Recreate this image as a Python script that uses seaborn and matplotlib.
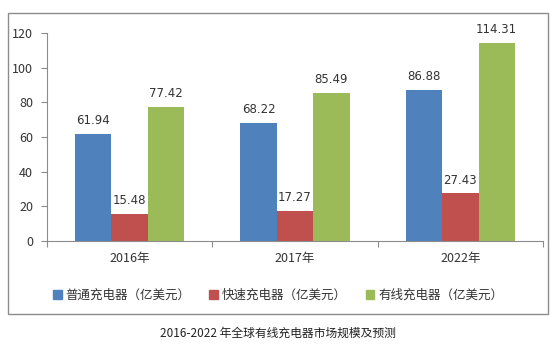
import matplotlib
matplotlib.use("Agg")
import matplotlib.pyplot as plt
from matplotlib.patches import Rectangle
import pandas as pd
import seaborn as sns

years = ["2016年", "2017年", "2022年"]
series_names = ["普通充电器（亿美元）", "快速充电器（亿美元）", "有线充电器（亿美元）"]
normal = [61.94, 68.22, 86.88]
fast = [15.48, 17.27, 27.43]
wired = [77.42, 85.49, 114.31]
caption = "2016-2022 年全球有线充电器市场规模及预测"

colors = ["#4F81BD", "#C0504D", "#9BBB59"]

df = pd.DataFrame({
    "year": years * 3,
    "series": [series_names[0]] * 3 + [series_names[1]] * 3 + [series_names[2]] * 3,
    "value": normal + fast + wired,
})

sns.set_theme(style="white")
plt.rcParams["font.family"] = ["Noto Sans CJK SC", "DejaVu Sans"]

fig = plt.figure(figsize=(5.56, 3.46), dpi=100)
W, H = 556, 346

# frame around the chart area
fig.patches.append(Rectangle((8 / W, 1 - 314 / H), 540 / W, 301 / H,
                             transform=fig.transFigure, fill=False,
                             edgecolor="#8c8c8c", linewidth=1.0))

ax = fig.add_axes([47 / W, 1 - 241 / H, 496 / W, 208 / H])
sns.barplot(data=df, x="year", y="value", hue="series", palette=colors,
            width=0.66, saturation=1, ax=ax, legend=False,
            edgecolor="none", linewidth=0)

for container in ax.containers:
    ax.bar_label(container, fmt="%.2f", padding=5, fontsize=8.5, color="#333333",
                 fontfamily="DejaVu Sans")

ax.set_ylim(0, 120)
ax.set_yticks(range(0, 121, 20))
ax.set_xlim(-0.5, 2.5)
ax.set_xlabel("")
ax.set_ylabel("")
ax.tick_params(axis="y", which="major", direction="out", length=4, width=0.8,
               color="#8c8c8c", labelsize=9, labelcolor="#333333", left=True, pad=6)
ax.tick_params(axis="x", which="major", length=0, labelsize=9, labelcolor="#333333", pad=8)
ax.set_xticks([-0.5, 0.5, 1.5, 2.5], minor=True)
ax.tick_params(axis="x", which="minor", direction="out", length=4, width=0.8,
               color="#8c8c8c", bottom=True)
for s in ["top", "right"]:
    ax.spines[s].set_visible(False)
for s in ["left", "bottom"]:
    ax.spines[s].set_color("#8c8c8c")
    ax.spines[s].set_linewidth(0.8)

# legend
handles = [Rectangle((0, 0), 1, 1, color=c) for c in colors]
fig.legend(handles, series_names, loc="center", bbox_to_anchor=(0.5, 1 - 295 / H),
           ncol=3, frameon=False, fontsize=9, handlelength=0.7, handleheight=0.7,
           handletextpad=0.3, columnspacing=1.5, labelcolor="#333333")

fig.text(0.5, 1 - 333 / H, caption, ha="center", va="center", fontsize=8.5, color="#222222")

fig.savefig("out.png", dpi=100, facecolor="white")
